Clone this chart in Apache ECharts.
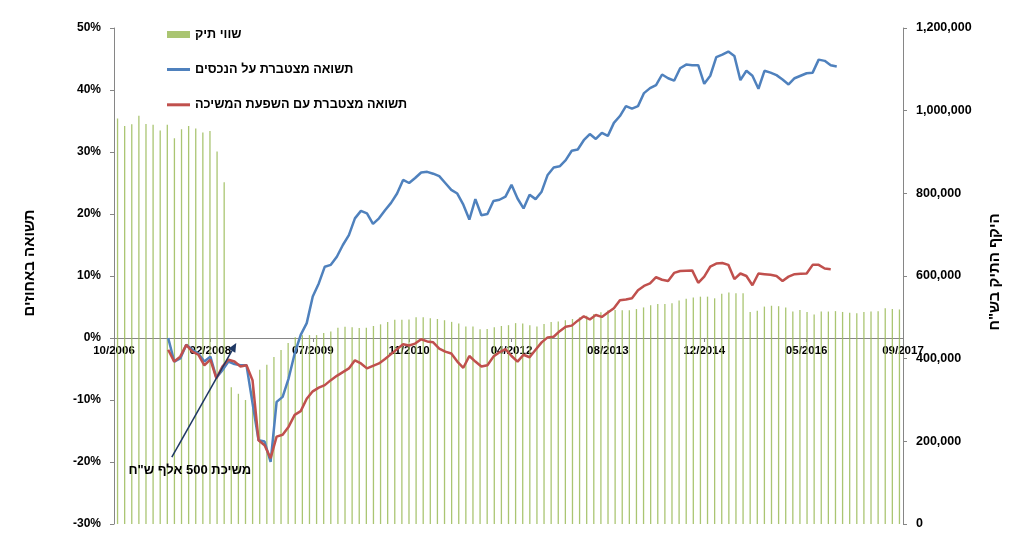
<!DOCTYPE html>
<html><head><meta charset="utf-8">
<script src="https://cdn.jsdelivr.net/npm/echarts@6/dist/echarts.min.js"></script>
<style>html,body{margin:0;padding:0;background:#fff}#c{width:1024px;height:558px}</style>
</head><body><div id="c"></div>
<script>
// Monthly date axis of the return lines: 10/2006 .. 09/2017
const months = [];
(function(){ let y = 2006, m = 10; while (!(y === 2017 && m === 10)) { months.push(String(m).padStart(2,'0') + '/' + y); m++; if (m > 12) { m = 1; y++; } } })();
const tickLabels = ['10/2006','02/2008','07/2009','11/2010','04/2012','08/2013','12/2014','05/2016','09/2017'];

const seriesNames = ['שווי תיק', 'תשואה מצטברת על הנכסים', 'תשואה מצטברת עם השפעת המשיכה'];
const leftTitle = 'תשואה באחוזים';
const rightTitle = 'היקף התיק בש"ח';
const noteText = 'משיכת 500 אלף ש"ח';

// cumulative return on assets (%), monthly from 07/2007
const assetStart = '07/2007';
const assetReturn = [
  0, -3.8, -3.3, -1.1, -1.9, -2.5, -3.8, -3.0, -6.4, -5.2, -3.8, -4.2, -4.4, -4.4,
  -10.5, -16.5, -16.7, -20.0, -10.3, -9.5, -6.5, -2.5, 0.5, 2.4, 6.7, 8.8, 11.5, 11.8,
  13.1, 15.0, 16.6, 19.3, 20.5, 20.1, 18.4, 19.3, 20.6, 21.8, 23.3, 25.5, 25.0, 25.8,
  26.7, 26.8, 26.5, 26.1, 25.0, 23.9, 23.3, 21.5, 19.1, 22.4, 19.8, 20.0, 22.1, 22.3,
  22.8, 24.7, 22.5, 20.9, 23.1, 22.4, 23.6, 26.3, 27.5, 27.7, 28.7, 30.2, 30.4, 31.9,
  32.9, 32.1, 33.1, 32.6, 34.7, 35.8, 37.4, 37.0, 37.4, 39.5, 40.3, 40.8, 42.5, 41.9,
  41.5, 43.5, 44.1, 44.0, 44.0, 41.0, 42.3, 45.3, 45.7, 46.2, 45.5, 41.6, 43.1, 42.3,
  40.2, 43.1, 42.8, 42.4, 41.7, 40.9, 41.9, 42.3, 42.7, 42.8, 44.9, 44.7, 44.0, 43.8
];
// cumulative return including the withdrawal effect (%), monthly from 07/2007
const withdrawStart = '07/2007';
const withdrawReturn = [
  -1.9, -3.8, -3.0, -1.1, -2.2, -2.7, -4.4, -3.5, -6.5, -4.6, -3.5, -3.8, -4.6, -4.4,
  -6.8, -16.5, -17.3, -19.4, -15.9, -15.6, -14.3, -12.4, -11.8, -9.8, -8.6, -8.0, -7.6, -6.8,
  -6.1, -5.5, -4.9, -3.6, -4.1, -4.9, -4.5, -4.1, -3.4, -2.6, -1.8, -1.0, -1.2, -0.9,
  -0.2, -0.55, -0.7, -1.7, -2.2, -2.5, -3.8, -4.8, -2.9, -3.8, -4.6, -4.4, -3.0, -2.3,
  -1.8, -2.9, -3.8, -2.7, -3.1, -1.9, -0.7, 0.1, 0.2, 1.1, 1.8, 2.0, 2.8, 3.5,
  3.0, 3.7, 3.4, 4.1, 4.8, 6.1, 6.2, 6.4, 7.7, 8.4, 8.8, 9.8, 9.4, 9.2,
  10.5, 10.8, 10.85, 10.9, 8.9, 9.9, 11.5, 12.0, 12.1, 11.8, 9.5, 10.4, 10.0, 8.5,
  10.4, 10.3, 10.2, 10.0, 9.2, 9.9, 10.3, 10.35, 10.4, 11.8, 11.8, 11.2, 11.1
];
// portfolio value (NIS), one bar per report on the secondary category axis
const portfolioValue = [
  981000, 963000, 967000, 988000, 968000, 966000, 952000, 966000, 933000, 955000,
  963000, 957000, 947000, 951000, 901000, 827000, 331000, 315000, 300000, 340000,
  373000, 385000, 404000, 421000, 438000, 452000, 457000, 457000, 457000, 462000,
  466000, 475000, 477000, 476000, 474000, 475000, 479000, 483000, 489000, 494000,
  494000, 495000, 500000, 500000, 498000, 496000, 493000, 489000, 485000, 478000,
  478000, 471000, 472000, 476000, 479000, 481000, 486000, 485000, 481000, 478000,
  484000, 489000, 490000, 493000, 496000, 500000, 504000, 508000, 512000, 517000,
  518000, 517000, 517000, 520000, 524000, 529000, 532000, 532000, 534000, 541000,
  545000, 548000, 550000, 550000, 546000, 557000, 560000, 558000, 558000, 513000,
  516000, 526000, 528000, 527000, 524000, 514000, 518000, 513000, 507000, 514000,
  514000, 515000, 513000, 511000, 510000, 513000, 514000, 515000, 522000, 520000, 519000
];
const barCategories = portfolioValue.map((_, i) => 'r' + (i + 1));

// left axis (%) and right axis (NIS) ranges
const pctMin = -30, pctMax = 50, pctStep = 10;
const valMin = 0, valMax = 1200000, valStep = 200000;

// annotation (month index on the date axis, % on the left axis)
const arrowFrom = [9.6, -19.2];
const arrowTo = [20.3, -0.8];
const noteAt = [12.6, -21.4];

function pairs(startLabel, vals) {
  const s = months.indexOf(startLabel);
  return vals.map((v, i) => [months[s + i], v]);
}
const isTick = (idx, val) => tickLabels.indexOf(val) >= 0;
const AX = '#868686';
const NUMFONT = 'Liberation Sans, Arial, sans-serif';
const HEBFONT = 'Liberation Sans, DejaVu Sans, sans-serif';

const GRID = { left: 114, right: 121, top: 28, bottom: 34 };
const plotH = 558 - GRID.top - GRID.bottom;
// the date labels hang under the 0% line
const zeroOffset = -((0 - pctMin) / (pctMax - pctMin)) * plotH;

const chart = echarts.init(document.getElementById('c'));
chart.setOption({
  animation: false,
  backgroundColor: '#ffffff',
  grid: Object.assign({ containLabel: false }, GRID),
  legend: [
    { orient: 'vertical', left: 162, top: 23, itemWidth: 23, itemHeight: 7, itemGap: 22,
      textStyle: { fontFamily: HEBFONT, fontWeight: 'bold', fontSize: 12.7, color: '#000' },
      data: [ { name: seriesNames[0], icon: 'rect' } ] },
    { orient: 'vertical', left: 162, top: 58, itemWidth: 23, itemHeight: 3, itemGap: 22.3,
      textStyle: { fontFamily: HEBFONT, fontWeight: 'bold', fontSize: 12.7, color: '#000' },
      data: [ { name: seriesNames[1], icon: 'rect' }, { name: seriesNames[2], icon: 'rect' } ] }
  ],
  xAxis: [
    { type: 'category', data: months, boundaryGap: false,
      axisLine: { onZero: true, onZeroAxisIndex: 0, lineStyle: { color: AX, width: 1 } },
      axisTick: { show: false }, axisLabel: { show: false }, splitLine: { show: false } },
    { type: 'category', data: barCategories, boundaryGap: true, show: false },
    { type: 'value', min: 0, max: months.length - 1, show: false },
    { type: 'category', data: months, boundaryGap: false, position: 'bottom', offset: zeroOffset,
      axisLine: { show: false },
      axisTick: { show: true, interval: isTick, length: 4, lineStyle: { color: AX } },
      axisLabel: { interval: isTick, color: '#000', fontFamily: NUMFONT, fontWeight: 'bold', fontSize: 11.5, margin: 7 },
      splitLine: { show: false } }
  ],
  yAxis: [
    { type: 'value', min: pctMin, max: pctMax, interval: pctStep, position: 'left',
      axisLine: { show: true, onZero: false, lineStyle: { color: AX } },
      axisTick: { show: true, length: 4, lineStyle: { color: AX } },
      axisLabel: { formatter: '{value}%', color: '#000', fontFamily: NUMFONT, fontWeight: 'bold', fontSize: 12, margin: 13 },
      splitLine: { show: false } },
    { type: 'value', min: valMin, max: valMax, interval: valStep, position: 'right',
      axisLine: { show: true, onZero: false, lineStyle: { color: AX } },
      axisTick: { show: true, length: 4, lineStyle: { color: AX } },
      axisLabel: { formatter: v => v.toLocaleString('en-US'), color: '#000', fontFamily: NUMFONT, fontWeight: 'bold', fontSize: 12.5, margin: 13 },
      splitLine: { show: false } }
  ],
  series: [
    { name: seriesNames[0], type: 'bar', xAxisIndex: 1, yAxisIndex: 1, data: portfolioValue,
      barWidth: 1.3, itemStyle: { color: '#9BBB59', opacity: 0.85 }, z: 1 },
    { name: seriesNames[1], type: 'line', xAxisIndex: 0, yAxisIndex: 0, data: pairs(assetStart, assetReturn),
      symbol: 'none', showSymbol: false, lineStyle: { color: '#4F81BD', width: 2.5 }, itemStyle: { color: '#4F81BD' }, z: 3 },
    { name: seriesNames[2], type: 'line', xAxisIndex: 0, yAxisIndex: 0, data: pairs(withdrawStart, withdrawReturn),
      symbol: 'none', showSymbol: false, lineStyle: { color: '#C0504D', width: 2.5 }, itemStyle: { color: '#C0504D' }, z: 3 },
    { type: 'custom', xAxisIndex: 2, yAxisIndex: 0, silent: true, z: 5,
      data: [[arrowFrom[0], arrowFrom[1], arrowTo[0], arrowTo[1], noteAt[0], noteAt[1]]],
      encode: { x: [0, 2, 4], y: [1, 3, 5] },
      renderItem: function (params, api) {
        const p1 = api.coord([api.value(0), api.value(1)]);
        const p2 = api.coord([api.value(2), api.value(3)]);
        const pn = api.coord([api.value(4), api.value(5)]);
        const ang = Math.atan2(p2[1] - p1[1], p2[0] - p1[0]);
        const L = 9, W = 4;
        const bx = p2[0] - L * Math.cos(ang), by = p2[1] - L * Math.sin(ang);
        const nx = -Math.sin(ang), ny = Math.cos(ang);
        return { type: 'group', children: [
          { type: 'line', shape: { x1: p1[0], y1: p1[1], x2: bx, y2: by }, style: { stroke: '#1F3864', lineWidth: 1.5 } },
          { type: 'polygon', shape: { points: [[p2[0], p2[1]], [bx + nx * W, by + ny * W], [bx - nx * W, by - ny * W]] }, style: { fill: '#1F3864' } },
          { type: 'text', x: pn[0], y: pn[1], style: { text: noteText, fill: '#000', fontFamily: HEBFONT, fontWeight: 'bold', fontSize: 13, align: 'center', verticalAlign: 'middle' } }
        ] };
      } }
  ],
  graphic: [
    { type: 'text', x: 30, y: 263, rotation: Math.PI / 2,
      style: { text: leftTitle, fill: '#000', fontFamily: HEBFONT, fontWeight: 'bold', fontSize: 15, align: 'center', verticalAlign: 'middle' } },
    { type: 'text', x: 995, y: 272, rotation: Math.PI / 2,
      style: { text: rightTitle, fill: '#000', fontFamily: HEBFONT, fontWeight: 'bold', fontSize: 15, align: 'center', verticalAlign: 'middle' } }
  ]
});
</script></body></html>
